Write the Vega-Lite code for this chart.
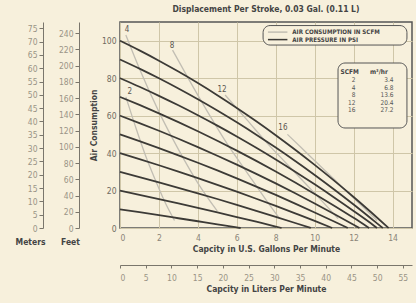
{
  "$schema": "https://vega.github.io/schema/vega-lite/v6.json",
  "width": 292,
  "height": 206,
  "autosize": "none",
  "padding": {"left": 120, "top": 22, "right": 4, "bottom": 75},
  "background": "#f7f0dc",
  "config": {
    "font": "'DejaVu Sans Condensed', Roboto, sans-serif",
    "view": {"stroke": "#555555", "strokeWidth": 1.5},
    "axis": {"labelFont": "'DejaVu Sans Condensed', Roboto, sans-serif", "titleFont": "'DejaVu Sans Condensed', Roboto, sans-serif", "labelColor": "#8a8478", "titleColor": "#444444", "labelFontSize": 8.5, "titleFontSize": 8.5, "titleFontWeight": "bold", "labelOverlap": false}
  },
  "title": {"text": "Displacement Per Stroke, 0.03 Gal. (0.11 L)", "anchor": "middle", "frame": "group", "offset": 9, "fontSize": 8.5, "fontWeight": "bold", "color": "#444444", "font": "'DejaVu Sans Condensed', Roboto, sans-serif"},
  "datasets": {
    "pressure": [
      {"s":10,"q":0,"p":10},{"s":10,"q":1,"p":8.42},{"s":10,"q":2,"p":6.82},{"s":10,"q":3,"p":5.21},{"s":10,"q":4,"p":3.6},{"s":10,"q":5,"p":1.98},{"s":10,"q":6,"p":0.34},{"s":10,"q":6.2,"p":0},
      {"s":20,"q":0,"p":20},{"s":20,"q":1,"p":17.74},{"s":20,"q":2,"p":15.44},{"s":20,"q":3,"p":13.1},{"s":20,"q":4,"p":10.72},{"s":20,"q":5,"p":8.3},{"s":20,"q":6,"p":5.84},{"s":20,"q":7,"p":3.34},{"s":20,"q":8,"p":0.8},{"s":20,"q":8.3,"p":0},
      {"s":30,"q":0,"p":30},{"s":30,"q":1,"p":27.23},{"s":30,"q":2,"p":24.39},{"s":30,"q":3,"p":21.48},{"s":30,"q":4,"p":18.51},{"s":30,"q":5,"p":15.48},{"s":30,"q":6,"p":12.37},{"s":30,"q":7,"p":9.2},{"s":30,"q":8,"p":5.97},{"s":30,"q":9,"p":2.67},{"s":30,"q":9.8,"p":0},
      {"s":40,"q":0,"p":40},{"s":40,"q":1,"p":36.79},{"s":40,"q":2,"p":33.5},{"s":40,"q":3,"p":30.11},{"s":40,"q":4,"p":26.62},{"s":40,"q":5,"p":23.05},{"s":40,"q":6,"p":19.38},{"s":40,"q":7,"p":15.63},{"s":40,"q":8,"p":11.78},{"s":40,"q":9,"p":7.83},{"s":40,"q":10,"p":3.8},{"s":40,"q":10.9,"p":0},
      {"s":50,"q":0,"p":50},{"s":50,"q":1,"p":46.4},{"s":50,"q":2,"p":42.67},{"s":50,"q":3,"p":38.81},{"s":50,"q":4,"p":34.83},{"s":50,"q":5,"p":30.73},{"s":50,"q":6,"p":26.49},{"s":50,"q":7,"p":22.13},{"s":50,"q":8,"p":17.65},{"s":50,"q":9,"p":13.04},{"s":50,"q":10,"p":8.3},{"s":50,"q":11,"p":3.44},{"s":50,"q":11.7,"p":0},
      {"s":60,"q":0,"p":60},{"s":60,"q":1,"p":56.05},{"s":60,"q":2,"p":51.93},{"s":60,"q":3,"p":47.65},{"s":60,"q":4,"p":43.21},{"s":60,"q":5,"p":38.6},{"s":60,"q":6,"p":33.83},{"s":60,"q":7,"p":28.9},{"s":60,"q":8,"p":23.8},{"s":60,"q":9,"p":18.53},{"s":60,"q":10,"p":13.1},{"s":60,"q":11,"p":7.5},{"s":60,"q":12,"p":1.75},{"s":60,"q":12.3,"p":0},
      {"s":70,"q":0,"p":70},{"s":70,"q":1,"p":65.72},{"s":70,"q":2,"p":61.24},{"s":70,"q":3,"p":56.56},{"s":70,"q":4,"p":51.68},{"s":70,"q":5,"p":46.6},{"s":70,"q":6,"p":41.32},{"s":70,"q":7,"p":35.84},{"s":70,"q":8,"p":30.16},{"s":70,"q":9,"p":24.28},{"s":70,"q":10,"p":18.2},{"s":70,"q":11,"p":11.92},{"s":70,"q":12,"p":5.44},{"s":70,"q":12.8,"p":0},
      {"s":80,"q":0,"p":80},{"s":80,"q":1,"p":75.41},{"s":80,"q":2,"p":70.58},{"s":80,"q":3,"p":65.51},{"s":80,"q":4,"p":60.2},{"s":80,"q":5,"p":54.65},{"s":80,"q":6,"p":48.86},{"s":80,"q":7,"p":42.83},{"s":80,"q":8,"p":36.56},{"s":80,"q":9,"p":30.05},{"s":80,"q":10,"p":23.3},{"s":80,"q":11,"p":16.31},{"s":80,"q":12,"p":9.08},{"s":80,"q":13,"p":1.61},{"s":80,"q":13.2,"p":0},
      {"s":90,"q":0,"p":90},{"s":90,"q":1,"p":85.12},{"s":90,"q":2,"p":79.95},{"s":90,"q":3,"p":74.49},{"s":90,"q":4,"p":68.75},{"s":90,"q":5,"p":62.73},{"s":90,"q":6,"p":56.41},{"s":90,"q":7,"p":49.81},{"s":90,"q":8,"p":42.93},{"s":90,"q":9,"p":35.75},{"s":90,"q":10,"p":28.3},{"s":90,"q":11,"p":20.56},{"s":90,"q":12,"p":12.53},{"s":90,"q":13,"p":4.21},{"s":90,"q":13.5,"p":0},
      {"s":100,"q":0,"p":100},{"s":100,"q":1,"p":94.84},{"s":100,"q":2,"p":89.35},{"s":100,"q":3,"p":83.53},{"s":100,"q":4,"p":77.39},{"s":100,"q":5,"p":70.93},{"s":100,"q":6,"p":64.13},{"s":100,"q":7,"p":57.01},{"s":100,"q":8,"p":49.57},{"s":100,"q":9,"p":41.8},{"s":100,"q":10,"p":33.7},{"s":100,"q":11,"p":25.28},{"s":100,"q":12,"p":16.53},{"s":100,"q":13,"p":7.45},{"s":100,"q":13.8,"p":0}
    ],
    "air": [
      {"c":2,"q":0.3,"p":70},{"c":2,"q":0.8,"p":54},{"c":2,"q":1.3,"p":39},{"c":2,"q":1.8,"p":26},{"c":2,"q":2.3,"p":14},{"c":2,"q":2.8,"p":4},
      {"c":4,"q":0.3,"p":103},{"c":4,"q":1,"p":85},{"c":4,"q":2,"p":62},{"c":4,"q":3,"p":42},{"c":4,"q":4,"p":24},{"c":4,"q":5,"p":9},
      {"c":8,"q":2.7,"p":95},{"c":8,"q":3.5,"p":80},{"c":8,"q":4.5,"p":62},{"c":8,"q":5.5,"p":45},{"c":8,"q":6.5,"p":30},{"c":8,"q":7.5,"p":15},{"c":8,"q":8.2,"p":5},
      {"c":12,"q":5.4,"p":71},{"c":12,"q":6.5,"p":58},{"c":12,"q":7.5,"p":46},{"c":12,"q":8.5,"p":35},{"c":12,"q":9.5,"p":24},{"c":12,"q":10.5,"p":13},{"c":12,"q":11.2,"p":5},
      {"c":16,"q":8.6,"p":50},{"c":16,"q":9.5,"p":41},{"c":16,"q":10.5,"p":31},{"c":16,"q":11.5,"p":21},{"c":16,"q":12.5,"p":11},{"c":16,"q":13.2,"p":4}
    ],
    "airLabels": [
      {"t":"4","q":0.36,"p":105.7},{"t":"2","q":0.5,"p":72.5},{"t":"8","q":2.67,"p":97.2},{"t":"12","q":5.24,"p":73.7},{"t":"16","q":8.37,"p":53.4}
    ],
    "legend": [
      {"t":"AIR CONSUMPTION IN SCFM","kind":"air","q1":7.6,"q2":8.6,"p":104.6,"qt":8.85},
      {"t":"AIR PRESSURE IN PSI","kind":"psi","q1":7.6,"q2":8.6,"p":100.6,"qt":8.85}
    ],
    "boxes": [
      {"b":"legend","q1":7.35,"q2":14.74,"p1":97.7,"p2":108.1},
      {"b":"table","q1":11.2,"q2":14.74,"p1":53.4,"p2":88.1}
    ],
    "table": [
      {"scfm":"2","m3":"3.4","p":79.0},
      {"scfm":"4","m3":"6.8","p":74.8},
      {"scfm":"8","m3":"13.6","p":71.0},
      {"scfm":"12","m3":"20.4","p":66.8},
      {"scfm":"16","m3":"27.2","p":63.0}
    ],
    "tableHead": [
      {"t":"SCFM","q":11.8,"p":83.3},
      {"t":"m³/hr","q":13.3,"p":83.3}
    ],
    "meters": [{"m":0},{"m":75}],
    "feet": [{"f":0},{"f":240}],
    "liters": [{"l":0},{"l":55}]
  },
  "layer": [
    {
      "encoding": {
        "x": {"type": "quantitative", "scale": {"domain": [0, 15], "nice": false, "zero": false}},
        "y": {"type": "quantitative", "scale": {"domain": [0, 110], "nice": false, "zero": false}}
      },
      "layer": [
        {
          "data": {"name": "air"},
          "mark": {"type": "line", "color": "#c2beb3", "strokeWidth": 1.3, "interpolate": "monotone"},
          "encoding": {
            "x": {"field": "q", "type": "quantitative", "axis": {"orient": "bottom", "values": [0,1,2,3,4,5,6,7,8,9,10,11,12,13,14,15], "labelExpr": "datum.value % 2 == 0 && datum.value < 15 ? datum.label : ''", "grid": true, "gridColor": "#cfc6a8", "gridWidth": 1, "gridOpacity": 1, "ticks": false, "domain": false, "labelPadding": 5, "title": "Capcity in U.S. Gallons Per Minute", "titlePadding": 3}},
            "y": {"field": "p", "type": "quantitative", "axis": {"orient": "left", "values": [0,10,20,30,40,50,60,70,80,90,100,110], "labelExpr": "datum.value <= 100 ? datum.label : ''", "grid": true, "gridColor": "#cfc6a8", "gridWidth": 1, "gridOpacity": 1, "ticks": false, "domain": false, "labelPadding": 4, "labelColor": "#6f6a60", "title": "Air Consumption", "titlePadding": 3}},
            "detail": {"field": "c", "type": "nominal"}
          }
        },
        {
          "data": {"name": "pressure"},
          "mark": {"type": "line", "color": "#3c3a36", "strokeWidth": 1.8, "interpolate": "monotone"},
          "encoding": {
            "x": {"field": "q", "type": "quantitative"},
            "y": {"field": "p", "type": "quantitative"},
            "detail": {"field": "s", "type": "nominal"}
          }
        },
        {
          "data": {"name": "airLabels"},
          "mark": {"type": "text", "fontSize": 8, "color": "#5a5650"},
          "encoding": {
            "x": {"field": "q", "type": "quantitative"},
            "y": {"field": "p", "type": "quantitative"},
            "text": {"field": "t"}
          }
        },
        {
          "data": {"name": "boxes"},
          "mark": {"type": "rect", "fill": "#f7f0dc", "stroke": "#555555", "strokeWidth": 1, "cornerRadius": 7},
          "encoding": {
            "x": {"field": "q1", "type": "quantitative"},
            "x2": {"field": "q2"},
            "y": {"field": "p1", "type": "quantitative"},
            "y2": {"field": "p2"}
          }
        },
        {
          "data": {"name": "legend"},
          "mark": {"type": "rule", "strokeWidth": 1.5},
          "encoding": {
            "x": {"field": "q1", "type": "quantitative"},
            "x2": {"field": "q2"},
            "y": {"field": "p", "type": "quantitative"},
            "color": {"field": "kind", "type": "nominal", "scale": {"domain": ["air", "psi"], "range": ["#c2beb3", "#3c3a36"]}, "legend": null}
          }
        },
        {
          "data": {"name": "legend"},
          "mark": {"type": "text", "align": "left", "baseline": "middle", "fontSize": 6.2, "fontWeight": "bold", "color": "#444444"},
          "encoding": {
            "x": {"field": "qt", "type": "quantitative"},
            "y": {"field": "p", "type": "quantitative"},
            "text": {"field": "t"}
          }
        },
        {
          "data": {"name": "tableHead"},
          "mark": {"type": "text", "align": "center", "baseline": "middle", "fontSize": 6.5, "fontWeight": "bold", "color": "#444444"},
          "encoding": {
            "x": {"field": "q", "type": "quantitative"},
            "y": {"field": "p", "type": "quantitative"},
            "text": {"field": "t"}
          }
        },
        {
          "data": {"name": "table"},
          "mark": {"type": "text", "align": "right", "baseline": "middle", "fontSize": 6.5, "color": "#555555"},
          "encoding": {
            "x": {"datum": 12.1, "type": "quantitative"},
            "y": {"field": "p", "type": "quantitative"},
            "text": {"field": "scfm"}
          }
        },
        {
          "data": {"name": "table"},
          "mark": {"type": "text", "align": "right", "baseline": "middle", "fontSize": 6.5, "color": "#555555"},
          "encoding": {
            "x": {"datum": 14.05, "type": "quantitative"},
            "y": {"field": "p", "type": "quantitative"},
            "text": {"field": "m3"}
          }
        }
      ]
    },
    {
      "data": {"name": "meters"},
      "mark": {"type": "point", "opacity": 0},
      "encoding": {
        "y": {"field": "m", "type": "quantitative", "scale": {"domain": [0, 77.34], "nice": false, "zero": false},
          "axis": {"orient": "left", "offset": 77, "values": [0,5,10,15,20,25,30,35,40,45,50,55,60,65,70,75], "grid": false, "domainColor": "#7a766c", "tickColor": "#7a766c", "tickSize": 4, "labelPadding": 2, "labelColor": "#9a9486", "title": "Meters", "titleAngle": 0, "titleX": -13, "titleY": 219, "titleAlign": "center", "titleBaseline": "middle"}}
      }
    },
    {
      "data": {"name": "feet"},
      "mark": {"type": "point", "opacity": 0},
      "encoding": {
        "y": {"field": "f", "type": "quantitative", "scale": {"domain": [0, 253.8], "nice": false, "zero": false},
          "axis": {"orient": "left", "offset": 41, "values": [0,20,40,60,80,100,120,140,160,180,200,220,240], "grid": false, "domainColor": "#7a766c", "tickColor": "#7a766c", "tickSize": 4, "labelPadding": 2, "labelColor": "#9a9486", "title": "Feet", "titleAngle": 0, "titleX": -9, "titleY": 219, "titleAlign": "center", "titleBaseline": "middle"}}
      }
    },
    {
      "data": {"name": "liters"},
      "mark": {"type": "point", "opacity": 0},
      "encoding": {
        "x": {"field": "l", "type": "quantitative", "scale": {"domain": [0, 56.78], "nice": false, "zero": false},
          "axis": {"orient": "bottom", "offset": 37, "values": [0,5,10,15,20,25,30,35,40,45,50,55], "grid": false, "domainColor": "#7a766c", "tickColor": "#7a766c", "tickSize": 3, "labelPadding": 5, "labelColor": "#9a9486", "title": "Capcity in Liters Per Minute", "titlePadding": 3}}
      }
    }
  ],
  "resolve": {"scale": {"x": "independent", "y": "independent"}}
}
